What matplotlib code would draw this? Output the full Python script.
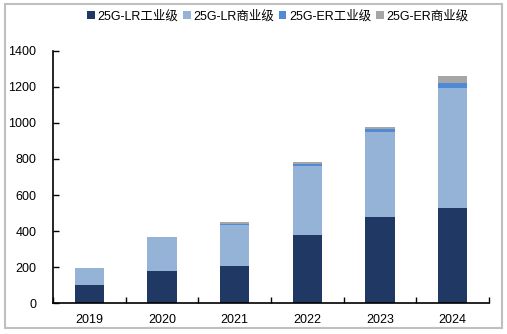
import matplotlib
matplotlib.use('Agg')
import matplotlib.pyplot as plt
import numpy as np
from matplotlib.patches import Rectangle

plt.rcParams['font.family'] = ['Liberation Sans', 'Noto Sans CJK SC', 'DejaVu Sans']

# ── Data ──────────────────────────────────────────────────────────────
years = ['2019', '2020', '2021', '2022', '2023', '2024']
lr_ind = [100, 178, 205, 378, 480, 530]
lr_com = [97, 192, 230, 383, 470, 665]
er_ind = [0, 0, 7, 10, 14, 27]
er_com = [0, 0, 10, 14, 13, 38]
series_names = ['25G-LR工业级', '25G-LR商业级', '25G-ER工业级', '25G-ER商业级']
colors = ['#1f3864', '#95b3d7', '#4f8ad6', '#a6a6a6']

fig = plt.figure(figsize=(5.07, 3.34), dpi=100)
fig.patch.set_facecolor('white')
fig.patches.append(Rectangle((0.01, 0.018), 0.98, 0.97, transform=fig.transFigure,
                             fill=False, edgecolor='#bfbfbf', linewidth=1.5))

ax = fig.add_axes([0.1045, 0.092, 0.86, 0.756])
x = np.arange(len(years))
bottom = np.zeros(len(years))
for vals, name, c in zip([lr_ind, lr_com, er_ind, er_com], series_names, colors):
    ax.bar(x, vals, width=0.4, bottom=bottom, color=c, label=name, linewidth=0)
    bottom += np.array(vals)

ax.set_xlim(-0.5, len(years) - 0.5)
ax.set_ylim(0, 1400)
ax.set_yticks(np.arange(0, 1401, 200))
ax.set_xticks(x)
ax.set_xticklabels(years)
ax.set_xticks(np.arange(-0.5, len(years)), minor=True)
ax.tick_params(axis='x', which='major', length=0, pad=8, labelsize=9)
ax.tick_params(axis='x', which='minor', direction='in', length=4, width=1)
ax.tick_params(axis='y', direction='in', length=4, width=1, labelsize=9, pad=12)
for s in ['top', 'right']:
    ax.spines[s].set_visible(False)
for s in ['left', 'bottom']:
    ax.spines[s].set_linewidth(1.2)

leg = fig.legend(loc='center', bbox_to_anchor=(0.548, 0.952), ncol=4, frameon=False,
                 fontsize=9, handlelength=0.6, handleheight=0.6, handletextpad=0.2,
                 columnspacing=0.4)

fig.savefig('out.png', dpi=100)
